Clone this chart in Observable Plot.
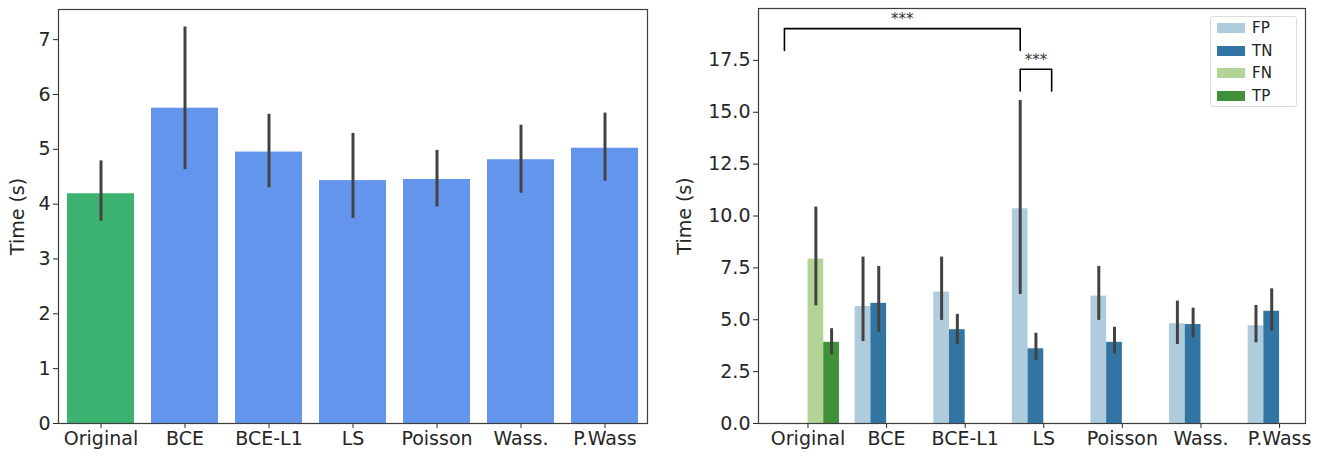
<!DOCTYPE html>
<html>
<head>
<meta charset="utf-8">
<script src="https://cdn.jsdelivr.net/npm/d3@7"></script>
<script src="https://cdn.jsdelivr.net/npm/@observablehq/plot@0.6"></script>
<style>
  html, body { margin: 0; padding: 0; background: white; }
  #wrap { position: relative; width: 1325px; height: 465px; display: flex; }
  #left { width: 660px; height: 465px; }
  #right { width: 665px; height: 465px; position: relative; }
  #legend { position: absolute; left: 550px; top: 16px; width: 87px; height: 91px;
    border: 1px solid #dcdcdc; border-radius: 3px; background: rgba(255,255,255,0.8);
    font-family: "DejaVu Sans", sans-serif; font-size: 15px; color: #222; box-sizing: border-box; }
  .row { position: absolute; left: 6px; height: 16px; display: flex; align-items: center; }
  .sw { width: 28px; height: 10px; margin-right: 7px; }
</style>
</head>
<body>
<div id="wrap">
  <div id="left"></div>
  <div id="right"><div id="legend"></div></div>
</div>
<script>
// ---------- Left chart data ----------
const leftCats  = ["Original", "BCE", "BCE-L1", "LS", "Poisson", "Wass.", "P.Wass"];
const leftMean  = [4.19, 5.75, 4.95, 4.43, 4.45, 4.81, 5.02];
const leftLo    = [3.69, 4.63, 4.30, 3.74, 3.95, 4.20, 4.42];
const leftHi    = [4.79, 7.23, 5.64, 5.29, 4.98, 5.44, 5.66];
const leftFill  = ["#3cb371", "#6495ed", "#6495ed", "#6495ed", "#6495ed", "#6495ed", "#6495ed"];
const leftYTicks = [0, 1, 2, 3, 4, 5, 6, 7];

// ---------- Right chart data ----------
const rightCats  = ["Original", "BCE", "BCE-L1", "LS", "Poisson", "Wass.", "P.Wass"];
const hues       = ["FP", "TN", "FN", "TP"];
const hueColors  = ["#aeccdc", "#3275a2", "#b3d495", "#40913a"];
const rightCat   = ["Original", "Original", "BCE", "BCE", "BCE-L1", "BCE-L1", "LS", "LS", "Poisson", "Poisson", "Wass.", "Wass.", "P.Wass", "P.Wass"];
const rightHue   = ["FN", "TP", "FP", "TN", "FP", "TN", "FP", "TN", "FP", "TN", "FP", "TN", "FP", "TN"];
const rightMean  = [7.92, 3.91, 5.64, 5.79, 6.33, 4.52, 10.35, 3.60, 6.14, 3.91, 4.81, 4.77, 4.71, 5.41];
const rightLo    = [5.67, 3.31, 3.95, 4.40, 4.97, 3.81, 6.22, 3.04, 4.97, 3.36, 3.81, 4.13, 3.89, 4.45];
const rightHi    = [10.43, 4.57, 8.02, 7.57, 8.02, 5.26, 15.57, 4.35, 7.57, 4.64, 5.90, 5.56, 5.69, 6.49];
const rightYTicks = [0, 2.5, 5, 7.5, 10, 12.5, 15, 17.5];

// ---------- Significance annotations ----------
const annCat1 = ["Original", "LS"];
const annHue1 = ["FP", "FP"];
const annCat2 = ["LS", "LS"];
const annHue2 = ["FP", "FN"];
const annBase = [17.98, 16.02];
const annTop  = [19.03, 17.07];
const annText = ["***", "***"];

const textColor = "#262626";
const errColor = "#424242";
const font = "DejaVu Sans";

// ---------- Build left ----------
const leftData = leftCats.map((c, i) => ({cat: c, mean: leftMean[i], lo: leftLo[i], hi: leftHi[i], fill: leftFill[i]}));

const leftPlot = Plot.plot({
  width: 660, height: 465,
  marginLeft: 58, marginRight: 13, marginTop: 9, marginBottom: 42,
  style: {fontFamily: font, fontSize: "19px", color: textColor, background: "white", overflow: "visible"},
  x: {domain: leftCats, paddingInner: 0.2, paddingOuter: 0.1, label: null, tickSize: 5, tickPadding: 3},
  y: {domain: [0, 7.55], ticks: leftYTicks, tickFormat: d3.format("d"), tickSize: 5, tickPadding: 3,
      label: "Time (s)", labelAnchor: "center", labelOffset: 48, labelArrow: "none"},
  color: {type: "identity"},
  marks: [
    Plot.barY(leftData, {x: "cat", y: "mean", fill: "fill"}),
    Plot.ruleX(leftData, {x: "cat", y1: "lo", y2: "hi", stroke: errColor, strokeWidth: 3}),
    Plot.frame({stroke: "#3d3d3d", strokeWidth: 1.2})
  ]
});
document.getElementById("left").appendChild(leftPlot);

// ---------- Build right ----------
const xpos = (cat, hue) => rightCats.indexOf(cat) + (hues.indexOf(hue) - 1.5) * 0.2;
const rightData = rightCat.map((c, i) => ({
  cat: c, hue: rightHue[i], mean: rightMean[i], lo: rightLo[i], hi: rightHi[i],
  fill: hueColors[hues.indexOf(rightHue[i])]
}));

const bracketPts = [];
annCat1.forEach((c, i) => {
  const a = xpos(c, annHue1[i]), b = xpos(annCat2[i], annHue2[i]);
  bracketPts.push({k: i, x: a, y: annBase[i]}, {k: i, x: a, y: annTop[i]},
                  {k: i, x: b, y: annTop[i]}, {k: i, x: b, y: annBase[i]});
});
const annLabels = annCat1.map((c, i) => ({
  x: (xpos(c, annHue1[i]) + xpos(annCat2[i], annHue2[i])) / 2, y: annTop[i], t: annText[i]
}));

const rightPlot = Plot.plot({
  width: 665, height: 465,
  marginLeft: 98, marginRight: 20, marginTop: 8, marginBottom: 42,
  style: {fontFamily: font, fontSize: "19px", color: textColor, background: "white", overflow: "visible"},
  x: {type: "linear", domain: [-0.63, 6.33], ticks: d3.range(rightCats.length),
      tickFormat: i => rightCats[i], label: null, tickSize: 5, tickPadding: 3},
  y: {domain: [0, 20], ticks: rightYTicks, tickFormat: d3.format(".1f"), tickSize: 5, tickPadding: 3,
      label: "Time (s)", labelAnchor: "center", labelOffset: 81, labelArrow: "none"},
  color: {type: "identity"},
  marks: [
    Plot.rect(rightData, {
      x1: d => xpos(d.cat, d.hue) - 0.1, x2: d => xpos(d.cat, d.hue) + 0.1,
      y1: 0, y2: "mean", fill: "fill"
    }),
    Plot.ruleX(rightData, {x: d => xpos(d.cat, d.hue), y1: "lo", y2: "hi", stroke: errColor, strokeWidth: 3}),
    Plot.line(bracketPts, {x: "x", y: "y", z: "k", stroke: "black", strokeWidth: 1.6}),
    Plot.text(annLabels, {x: "x", y: "y", text: "t", fontSize: 15, dy: -9, fill: "#333"}),
    Plot.frame({stroke: "#3d3d3d", strokeWidth: 1.2})
  ]
});
document.getElementById("right").insertBefore(rightPlot, document.getElementById("legend"));

// ---------- Legend ----------
const legend = document.getElementById("legend");
hues.forEach((h, i) => {
  const row = document.createElement("div");
  row.className = "row";
  row.style.top = (3 + i * 22.7) + "px";
  const sw = document.createElement("div");
  sw.className = "sw";
  sw.style.background = hueColors[i];
  const lab = document.createElement("span");
  lab.textContent = h;
  row.appendChild(sw); row.appendChild(lab);
  legend.appendChild(row);
});
</script>
</body>
</html>
